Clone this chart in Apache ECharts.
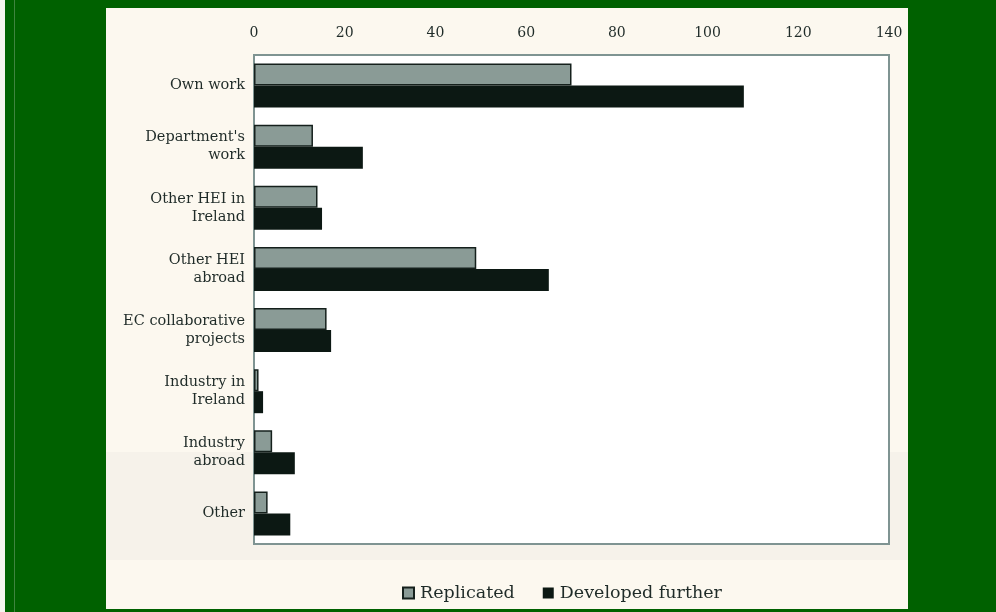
<!DOCTYPE html>
<html>
<head>
<meta charset="utf-8">
<script src="https://cdn.jsdelivr.net/npm/echarts@6/dist/echarts.min.js"></script>
<style>
  html, body { margin: 0; padding: 0; background: #006100; }
  #chart { width: 996px; height: 612px; }
</style>
</head>
<body>
<div id="chart"></div>
<script>
// Sources of the work that was replicated or developed further
const categories = [
  "Own work",
  "Department's\nwork",
  "Other HEI in\nIreland",
  "Other HEI\nabroad",
  "EC collaborative\nprojects",
  "Industry in\nIreland",
  "Industry\nabroad",
  "Other"
];
const replicated = [70, 13, 14, 49, 16, 1, 4, 3];
const developedFurther = [108, 24, 15, 65, 17, 2, 9, 8];
const xTicks = { min: 0, max: 140, interval: 20 };

const serif = "'DejaVu Serif', 'Liberation Serif', serif";
const ink = '#1f2b28';

const chart = echarts.init(document.getElementById('chart'), null, { renderer: 'canvas' });

chart.setOption({
  backgroundColor: '#006100',
  animation: false,
  graphic: [
    { type: 'rect', z: -100, shape: { x: 0, y: 0, width: 5, height: 612 }, style: { fill: '#f4f4ee' } },
    { type: 'rect', z: -100, shape: { x: 14, y: 0, width: 1, height: 612 }, style: { fill: '#3f843f' } },
    { type: 'rect', z: -100, shape: { x: 106, y: 8, width: 802, height: 601 }, style: { fill: '#fcf8ef' } },
    { type: 'rect', z: -99, shape: { x: 106, y: 452, width: 802, height: 108 }, style: { fill: 'rgba(205,205,195,0.12)' } }
  ],
  grid: {
    left: 254, right: 107, top: 55, bottom: 68,
    show: true,
    backgroundColor: '#ffffff',
    borderColor: '#7f9492',
    borderWidth: 2
  },
  legend: {
    left: 397, top: 579,
    icon: 'rect',
    itemWidth: 11, itemHeight: 11,
    itemGap: 28,
    textStyle: { fontFamily: serif, fontSize: 17.5, color: ink, padding: [0, 0, 0, 1] },
    data: ['Replicated', 'Developed further']
  },
  xAxis: {
    type: 'value',
    position: 'top',
    min: xTicks.min, max: xTicks.max, interval: xTicks.interval,
    axisLine: { show: false },
    axisTick: { show: false },
    splitLine: { show: false },
    axisLabel: { fontFamily: serif, fontSize: 14, color: ink, margin: 15 }
  },
  yAxis: {
    type: 'category',
    inverse: true,
    data: categories,
    axisLine: { show: false },
    axisTick: { show: false },
    axisLabel: { fontFamily: serif, fontSize: 14.5, lineHeight: 18, color: ink, margin: 9, align: 'right' }
  },
  series: [
    {
      name: 'Replicated',
      type: 'bar',
      data: replicated,
      barGap: '0%',
      barCategoryGap: '28%',
      itemStyle: { color: '#8a9b96', borderColor: '#15201c', borderWidth: 1.5 }
    },
    {
      name: 'Developed further',
      type: 'bar',
      data: developedFurther,
      itemStyle: { color: '#0c1813' }
    }
  ]
});
</script>
</body>
</html>
